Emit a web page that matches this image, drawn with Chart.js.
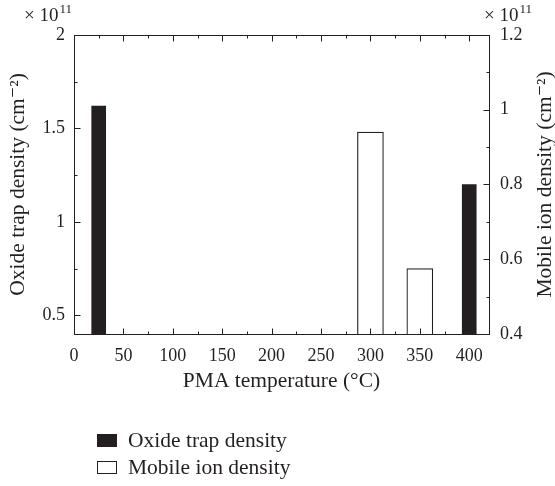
<!DOCTYPE html>
<html><head><meta charset="utf-8">
<script src="https://cdn.jsdelivr.net/npm/chart.js@4.4.1/dist/chart.umd.min.js"></script>
<style>html,body{margin:0;padding:0;background:#fff}</style>
</head><body>
<canvas id="c" width="555" height="486"></canvas>
<script>
// ---- data ----
const oxideTemps = [25, 400];
const oxideTrapDensity = [1.62, 1.2];      // ×10^11 cm^-2 (left axis)
const mobileTemps = [300, 350];
const mobileIonDensity = [0.94, 0.575];    // ×10^11 cm^-2 (right axis)
const seriesLabels = ['Oxide trap density', 'Mobile ion density'];
const xMajorTicks = [0, 50, 100, 150, 200, 250, 300, 350, 400];
const xMinorTicks = [25, 75, 125, 175, 225, 275, 325, 375];
const leftMajorTicks = [0.5, 1, 1.5, 2];
const leftMinorTicks = [0.75, 1.25, 1.75];
const rightMajorTicks = [0.4, 0.6, 0.8, 1, 1.2];
const rightMinorTicks = [0.5, 0.7, 0.9, 1.1];

const INK = '#231f20';
const SERIF = '"Liberation Serif", "DejaVu Serif", serif';
const fmt = v => String(Number(v.toFixed(3)));

const framePlugin = {
  id: 'frame',
  afterDatasetsDraw(chart) {
    const {ctx, chartArea: a, scales} = chart;
    ctx.save();
    ctx.strokeStyle = INK;
    ctx.lineWidth = 1;
    const line = (x1, y1, x2, y2) => { ctx.beginPath(); ctx.moveTo(x1, y1); ctx.lineTo(x2, y2); ctx.stroke(); };
    const L = Math.round(a.left) + 0.5, R = Math.round(a.right) + 0.5;
    const T = Math.round(a.top) + 0.5, B = Math.round(a.bottom) + 0.5;
    ctx.strokeRect(L, T, R - L, B - T);
    const px = v => Math.round(scales.x.getPixelForValue(v)) + 0.5;
    xMajorTicks.forEach(v => { const p = px(v); line(p, B, p, B - 6); line(p, T, p, T + 6); });
    xMinorTicks.forEach(v => { const p = px(v); line(p, B, p, B - 3); line(p, T, p, T + 3); });
    const pl = v => Math.round(scales.yL.getPixelForValue(v)) + 0.5;
    leftMajorTicks.forEach(v => line(L, pl(v), L + 6, pl(v)));
    leftMinorTicks.forEach(v => line(L, pl(v), L + 3, pl(v)));
    const pr = v => Math.round(scales.yR.getPixelForValue(v)) + 0.5;
    rightMajorTicks.forEach(v => line(R, pr(v), R - 6, pr(v)));
    rightMinorTicks.forEach(v => line(R, pr(v), R - 3, pr(v)));
    ctx.restore();
  },
  afterDraw(chart) {
    const {ctx, chartArea: a, scales} = chart;
    ctx.save();
    ctx.fillStyle = INK;
    // exponent labels
    const expo = (x, y) => {
      ctx.font = '19px ' + SERIF;
      ctx.textAlign = 'left'; ctx.textBaseline = 'alphabetic';
      const base = '\u00d7 10';
      ctx.fillText(base, x, y);
      const w = ctx.measureText(base).width;
      ctx.font = '13px ' + SERIF;
      ctx.fillText('11', x + w + 1, y - 8);
    };
    expo(a.left - 50, a.top - 14);
    expo(a.right - 5, a.top - 14);
    // right axis title (reads bottom to top)
    ctx.font = '21.5px ' + SERIF;
    ctx.textAlign = 'center'; ctx.textBaseline = 'middle';
    ctx.translate(scales.yR.right - 10, (a.top + a.bottom) / 2);
    ctx.rotate(-Math.PI / 2);
    ctx.fillText('Mobile ion density (cm\u207b\u00b2)', 0, 0);
    ctx.restore();
    // legend
    ctx.save();
    const lx = 97, y0 = scales.x.bottom + 46, dy = 27;
    chart.data.datasets.forEach((ds, i) => {
      const y = y0 + i * dy;
      ctx.fillStyle = ds.backgroundColor;
      ctx.fillRect(lx, y - 6, 20, 13);
      ctx.strokeStyle = INK; ctx.lineWidth = 1;
      ctx.strokeRect(lx + 0.5, y - 5.5, 19, 12);
      ctx.fillStyle = INK;
      ctx.font = '21.5px ' + SERIF;
      ctx.textAlign = 'left'; ctx.textBaseline = 'middle';
      ctx.fillText(ds.label, lx + 31, y + 1);
    });
    ctx.restore();
  }
};

new Chart(document.getElementById('c'), {
  type: 'bar',
  data: {
    datasets: [
      {
        label: seriesLabels[0],
        data: oxideTemps.map((t, i) => ({x: t, y: oxideTrapDensity[i]})),
        yAxisID: 'yL',
        backgroundColor: INK,
        borderColor: INK,
        borderWidth: 0,
        barThickness: 14,
        grouped: false
      },
      {
        label: seriesLabels[1],
        data: mobileTemps.map((t, i) => ({x: t, y: mobileIonDensity[i]})),
        yAxisID: 'yR',
        backgroundColor: '#ffffff',
        borderColor: INK,
        borderWidth: 1.2,
        borderSkipped: 'start',
        barThickness: 26,
        grouped: false
      }
    ]
  },
  options: {
    responsive: false,
    animation: false,
    layout: {padding: {top: 35, bottom: 92, left: 0, right: 0}},
    plugins: {legend: {display: false}, tooltip: {enabled: false}},
    scales: {
      x: {
        type: 'linear', min: 0, max: 420, position: 'bottom', offset: false,
        grid: {display: false, drawTicks: false, offset: false},
        border: {display: false},
        ticks: {stepSize: 50, includeBounds: false, color: INK, padding: 11, font: {family: SERIF, size: 18}, callback: fmt},
        title: {display: true, text: 'PMA temperature (\u00b0C)', color: INK, font: {family: SERIF, size: 21.5}, padding: {top: 0, bottom: 0}},
        afterFit(s) { s.height = 60; }
      },
      yL: {
        type: 'linear', position: 'left', min: 0.4, max: 2,
        grid: {display: false, drawTicks: false},
        border: {display: false},
        ticks: {stepSize: 0.5, includeBounds: false, color: INK, padding: 9, font: {family: SERIF, size: 18}, callback: fmt},
        title: {display: true, text: 'Oxide trap density (cm\u207b\u00b2)', color: INK, font: {family: SERIF, size: 21.5}, padding: {top: 5, bottom: 0}},
        afterFit(s) { s.width = 74; }
      },
      yR: {
        type: 'linear', position: 'right', min: 0.4, max: 1.2,
        grid: {display: false, drawTicks: false},
        border: {display: false},
        ticks: {stepSize: 0.2, includeBounds: false, color: INK, padding: 11, font: {family: SERIF, size: 18}, callback: fmt},
        afterFit(s) { s.width = 66; }
      }
    }
  },
  plugins: [framePlugin]
});
</script>
</body></html>
